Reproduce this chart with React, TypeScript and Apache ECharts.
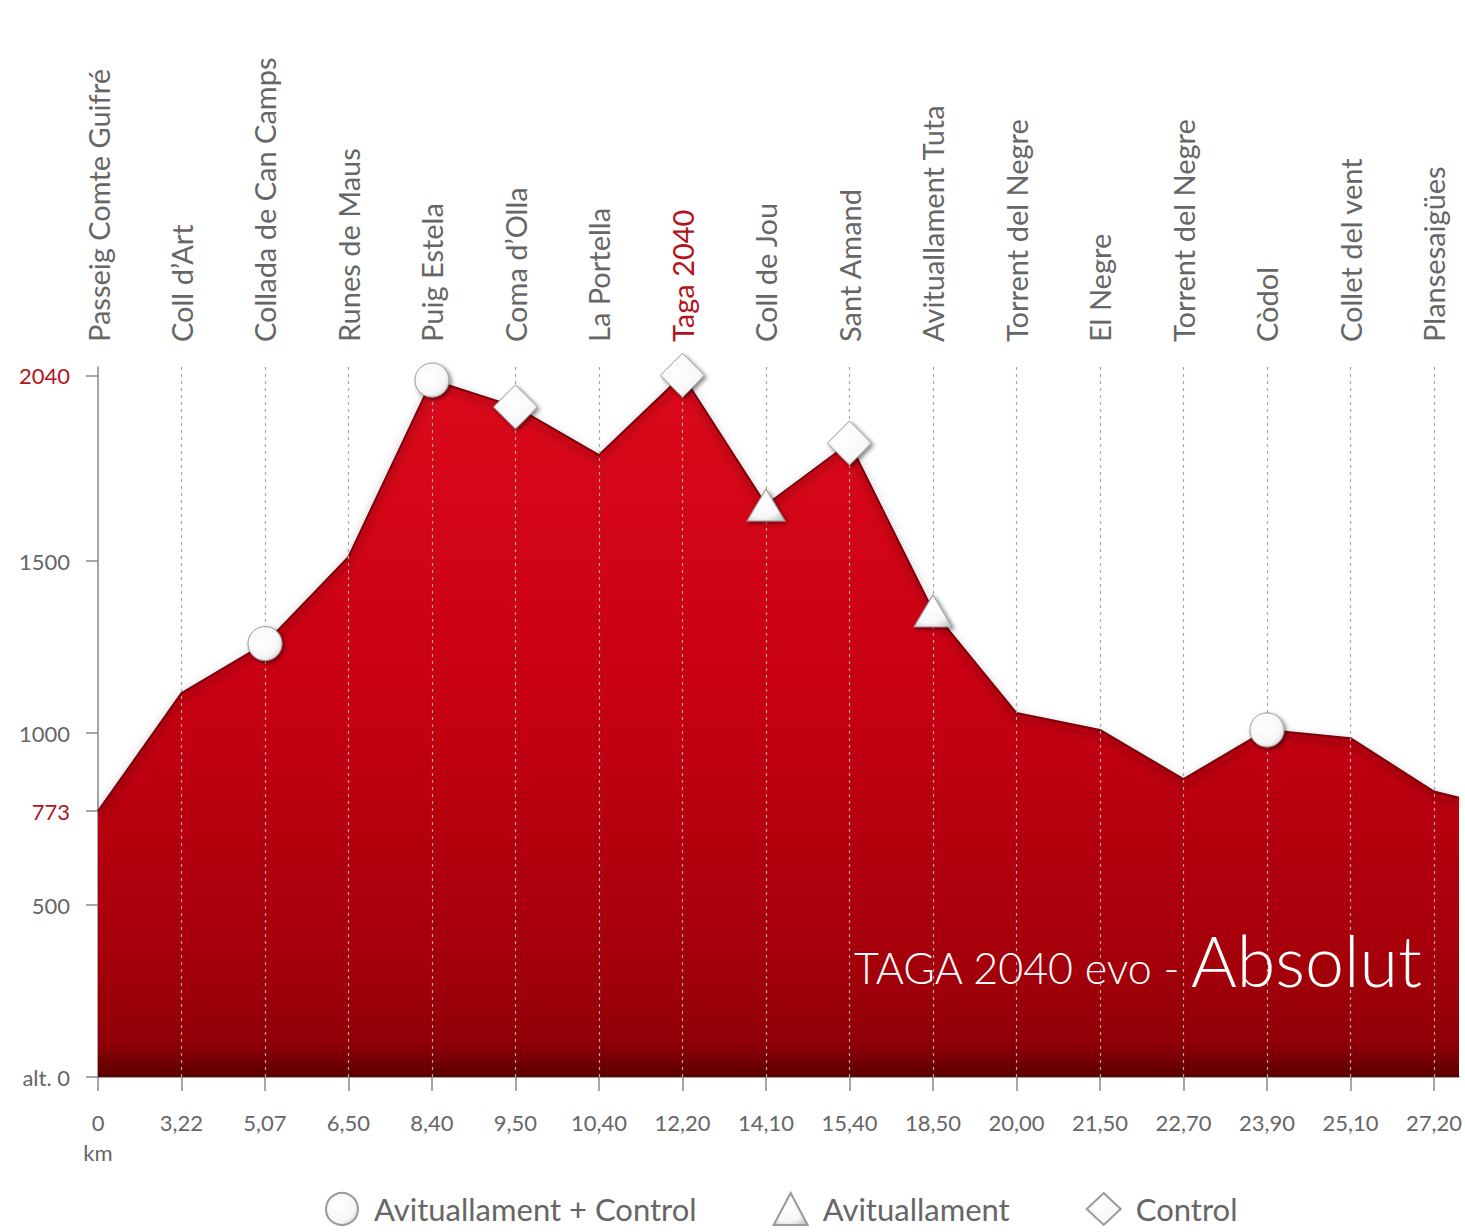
import React, { useEffect, useRef } from "react";
import * as echarts from "echarts";

const KM_LABELS = ["0", "3,22", "5,07", "6,50", "8,40", "9,50", "10,40", "12,20", "14,10", "15,40", "18,50", "20,00", "21,50", "22,70", "23,90", "25,10", "27,20"];
const PLACES = ["Passeig Comte Guifré", "Coll d’Art", "Collada de Can Camps", "Runes de Maus", "Puig Estela", "Coma d’Olla", "La Portella", "Taga 2040", "Coll de Jou", "Sant Amand", "Avituallament Tuta", "Torrent del Negre", "El Negre", "Torrent del Negre", "Còdol", "Collet del vent", "Plansesaigües"];
const ELEVATION = [773, 1116, 1260, 1512, 2026, 1948, 1808, 2040, 1663, 1843, 1355, 1058, 1009, 866, 1009, 985, 830];
const END_POINT = [16.3, 812];
const Y_TICKS = [0, 500, 773, 1000, 1500, 2040];
const HIGHLIGHT_Y = [773, 2040];
const CIRCLE_IDX = [2, 4, 14];
const TRIANGLE_IDX = [8, 10];
const DIAMOND_IDX = [5, 7, 9];

const FONT = "Lato, 'Open Sans', sans-serif";

const markerStyle = {
  opacity: 1,
  color: {
    type: "radial", x: 0.4, y: 0.4, r: 0.75,
    colorStops: [
      { offset: 0, color: "#ffffff" },
      { offset: 0.65, color: "#f7f7f7" },
      { offset: 1, color: "#c8c8c8" },
    ],
  },
  borderColor: "#9a9a9a",
  borderWidth: 1,
  shadowColor: "rgba(0,0,0,0.5)",
  shadowBlur: 4,
  shadowOffsetX: 2,
  shadowOffsetY: 2,
};

export default function App() {
  const ref = useRef<HTMLDivElement>(null);
  useEffect(() => {
    if (!ref.current) return;
    const chart = echarts.init(ref.current, null, { renderer: "svg" });
    const idx = KM_LABELS.map((_, i) => i);
    const profile: number[][] = ELEVATION.map((v, i) => [i, v]);
    profile.push(END_POINT);
    const pts = (list: number[]) => list.map((i) => [i, ELEVATION[i]]);

    chart.setOption({
      animation: false,
      backgroundColor: "#ffffff",
      textStyle: { fontFamily: FONT },
      grid: { left: 98, right: 0, top: 367, bottom: 155 },
      legend: {
        bottom: 1,
        left: 320,
        itemWidth: 34,
        itemHeight: 32,
        itemGap: 76,
        textStyle: { fontSize: 31, color: "#666", fontFamily: FONT, padding: [0, 0, 0, 10] },
        data: ["Avituallament + Control", "Avituallament", "Control"],
      },
      xAxis: [
        {
          type: "value",
          min: 0,
          max: 16.3,
          interval: 1,
          axisLine: { show: true, lineStyle: { color: "#888", width: 1.5 } },
          axisTick: { show: true, length: 14, customValues: idx, lineStyle: { color: "#888", width: 1.5 } },
          splitLine: { show: false },
          axisLabel: {
            customValues: idx,
            margin: 30,
            fontSize: 22,
            color: "#666",
            lineHeight: 30,
            formatter: (v: number) => (v === 0 ? "0\nkm" : KM_LABELS[Math.round(v)]),
          },
        },
        {
          type: "value",
          position: "top",
          min: 0,
          max: 16.3,
          interval: 1,
          axisLine: { show: false },
          axisTick: { show: false },
          splitLine: { show: false },
          axisLabel: {
            customValues: idx,
            rotate: -90,
            margin: 25,
            fontSize: 29,
            color: "#666",
            formatter: (v: number) => {
              const i = Math.round(v);
              return i === 7 ? "{r|" + PLACES[i] + "}" : PLACES[i];
            },
            rich: { r: { color: "#b3141c", fontSize: 29, fontFamily: FONT } },
          },
        },
      ],
      yAxis: {
        type: "value",
        min: 0,
        max: 2064,
        interval: 2064,
        axisLine: { show: true, lineStyle: { color: "#888", width: 1.5 } },
        axisTick: { show: true, length: 12, customValues: Y_TICKS, lineStyle: { color: "#888", width: 1.5 } },
        splitLine: { show: false },
        axisLabel: {
          customValues: Y_TICKS,
          margin: 28,
          fontSize: 22,
          color: "#666",
          formatter: (v: number) => {
            if (v === 0) return "alt. 0";
            if (HIGHLIGHT_Y.indexOf(v) >= 0) return "{r|" + v + "}";
            return String(v);
          },
          rich: { r: { color: "#b3141c", fontSize: 22, fontFamily: FONT } },
        },
      },
      graphic: [
        {
          type: "text",
          x: 1422,
          y: 995,
          z: 100,
          style: {
            text: "{a|TAGA 2040 evo - }{b|Absolut}",
            fill: "#ffffff",
            align: "right",
            verticalAlign: "bottom",
            rich: {
              a: { fontSize: 43, fill: "#ffffff", fontFamily: FONT, fontWeight: 300, lineHeight: 80, verticalAlign: "bottom", padding: [0, 0, 6, 0] },
              b: { fontSize: 70, fill: "#ffffff", fontFamily: FONT, fontWeight: 300, lineHeight: 80, verticalAlign: "bottom" },
            },
          },
        },
      ],
      series: [
        {
          type: "scatter",
          name: "guides",
          data: [],
          z: 1,
          silent: true,
          markLine: {
            silent: true,
            symbol: "none",
            label: { show: false },
            lineStyle: { color: "#a8a8a8", type: [3, 4], width: 1.2 },
            data: idx.slice(1).map((i) => ({ xAxis: i })),
          },
        },
        {
          type: "line",
          name: "profile",
          data: profile,
          z: 2,
          symbol: "none",
          lineStyle: {
            color: "#7a0008",
            width: 2,
            shadowColor: "rgba(40,0,0,0.6)",
            shadowBlur: 10,
            shadowOffsetY: 4,
          },
          areaStyle: {
            opacity: 1,
            color: {
              type: "linear", x: 0, y: 0, x2: 0, y2: 1,
              colorStops: [
                { offset: 0, color: "#dc0a1a" },
                { offset: 0.45, color: "#c80012" },
                { offset: 0.85, color: "#a3000a" },
                { offset: 0.95, color: "#900006" },
                { offset: 1, color: "#5c0000" },
              ],
            },
          },
        },
        {
          type: "scatter",
          name: "Avituallament + Control",
          symbol: "circle",
          symbolSize: 34,
          z: 5,
          data: pts(CIRCLE_IDX),
          itemStyle: markerStyle,
        },
        {
          type: "scatter",
          name: "Avituallament",
          symbol: "triangle",
          symbolSize: [38, 32],
          z: 5,
          data: pts(TRIANGLE_IDX),
          itemStyle: markerStyle,
        },
        {
          type: "scatter",
          name: "Control",
          symbol: "diamond",
          symbolSize: 44,
          z: 5,
          data: pts(DIAMOND_IDX),
          itemStyle: markerStyle,
        },
      ],
    });
    return () => chart.dispose();
  }, []);
  return <div ref={ref} style={{ position: "fixed", left: 0, top: 0, width: 1465, height: 1232 }} />;
}
